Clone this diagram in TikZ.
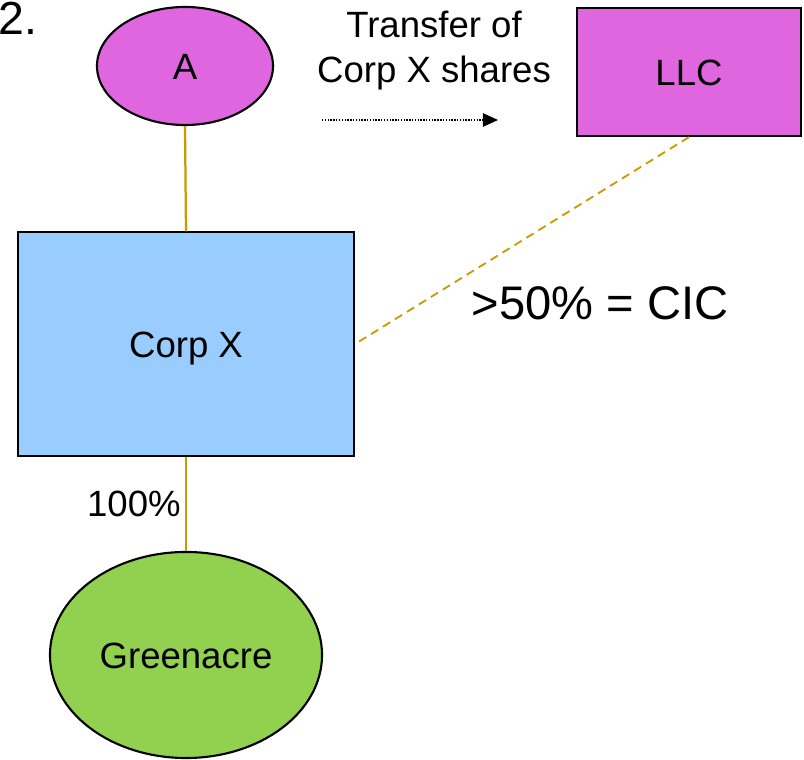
\documentclass[tikz,border=0pt]{standalone}
\usepackage{fontspec}
\setmainfont{Liberation Sans}
\usetikzlibrary{shapes.geometric,arrows.meta}
\definecolor{ownpink}{HTML}{E066E0}
\definecolor{corpblue}{HTML}{99CCFF}
\definecolor{landgreen}{HTML}{92D050}
\definecolor{linkgold}{HTML}{CC9900}

\begin{document}
\begin{tikzpicture}[x=0.025cm,y=-0.025cm,
    every node/.style={font=\fontsize{26}{31}\selectfont},
    entity/.style={draw=black,line width=1.5pt,text height=18.7pt,text depth=0pt},
    holds/.style={draw=linkgold,line width=1.6pt}]
\useasboundingbox (0,0) rectangle (804,760);
\node[anchor=base west,inner sep=0,font=\fontsize{33}{38}\selectfont] (step) at (-2,35) {2.};

\node[entity,ellipse,fill=ownpink,minimum width=4.4cm,minimum height=2.95cm] (A) at (185,66) {A};
\node[entity,rectangle,fill=ownpink,minimum width=5.6cm,minimum height=3.2cm] (llc) at (689,72) {LLC};
\node[entity,rectangle,fill=corpblue,minimum width=8.4cm,minimum height=5.58cm] (corpx) at (186,344) {Corp X};
\node[entity,ellipse,fill=landgreen,minimum width=6.8cm,minimum height=5.15cm] (green) at (186,655) {Greenacre};

\node[align=center,anchor=north,inner sep=0,font=\fontsize{26}{31.5}\selectfont] (transfer) at (434,11) {Transfer of\\Corp X shares};
\coordinate (tfrom) at (322,120);
\coordinate (tto) at (498,120);
\draw[line width=0.9pt,dash pattern=on 1pt off 1pt,-{Triangle[length=0.38cm,width=0.34cm]}] (tfrom) -- (tto);

\node[anchor=base,inner sep=0,font=\fontsize{33.5}{38}\selectfont] (cic) at (600,320) {>50\% = CIC};

\draw[holds] (A.south) -- (corpx.north);
\draw[holds] (corpx.south) -- node[left,inner sep=3pt] (pct) {100\%} (green.north);
\draw[holds,line width=1.3pt,dash pattern=on 6pt off 4pt] (llc.south) -- (corpx.east);
\end{tikzpicture}
\end{document}
